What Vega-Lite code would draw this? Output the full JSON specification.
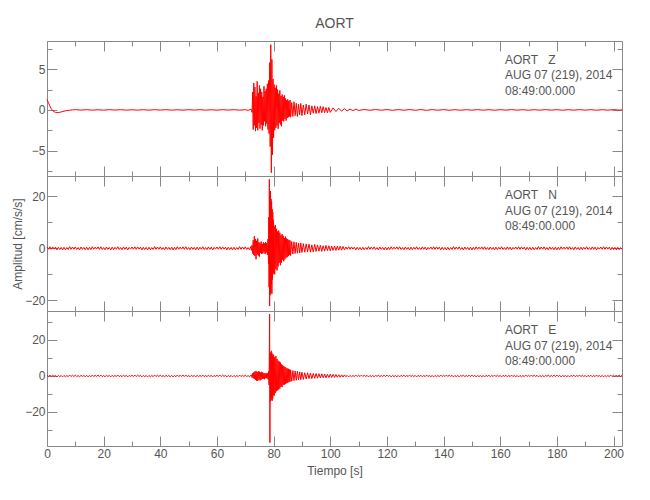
{
"$schema":"https://vega.github.io/schema/vega-lite/v6.json",
"padding":{"left":11,"top":16,"right":25,"bottom":8},
"title":{"text":"AORT","fontSize":14,"font":"Liberation Sans","fontWeight":"normal","color":"#555","offset":10,"anchor":"middle","frame":"group"},
"config":{"view":{"stroke":null},"axis":{"domainColor":"#888","tickColor":"#888","labelColor":"#555","titleColor":"#555","labelFont":"Liberation Sans","titleFont":"Liberation Sans","labelFontSize":12,"titleFontSize":12,"titleFontWeight":"normal","grid":false,"labelFlush":false,"labelOverlap":false,"labelBound":false}},
"datasets":{
"z":[{"t":0,"a":1.3},{"t":0.5,"a":0.9},{"t":1,"a":0.5},{"t":1.5,"a":0.15},{"t":2,"a":-0.1},{"t":2.5,"a":-0.22},{"t":3,"a":-0.3},{"t":3.5,"a":-0.33},{"t":4,"a":-0.32},{"t":5,"a":-0.25},{"t":6,"a":-0.15},{"t":7,"a":-0.08},{"t":8,"a":-0.03},{"t":9,"a":0.01},{"t":10,"a":0.03},{"t":12,"a":-0.02},{"t":14,"a":0.03},{"t":16,"a":-0.03},{"t":18,"a":0.02},{"t":20,"a":-0.03},{"t":22,"a":0.03},{"t":24,"a":-0.02},{"t":26,"a":0.03},{"t":28,"a":-0.03},{"t":30,"a":0.02},{"t":32,"a":-0.03},{"t":34,"a":0.03},{"t":36,"a":-0.03},{"t":38,"a":0.03},{"t":40,"a":-0.02},{"t":42,"a":0.03},{"t":44,"a":-0.03},{"t":46,"a":0.02},{"t":48,"a":-0.03},{"t":50,"a":0.03},{"t":52,"a":-0.02},{"t":54,"a":0.03},{"t":56,"a":-0.03},{"t":58,"a":0.02},{"t":60,"a":-0.03},{"t":62,"a":0.03},{"t":64,"a":-0.02},{"t":66,"a":0.03},{"t":68,"a":-0.03},{"t":70,"a":0.03},{"t":71,"a":-0.06},{"t":72,"a":0.1},{"t":72.4,"a":-0.3},
{"t":72.6,"a":2.2},{"t":72.8,"a":-2.4},{"t":73.0,"a":3.3},{"t":73.2,"a":-1.9},{"t":73.4,"a":2.8},{"t":73.6,"a":-2.6},{"t":73.8,"a":1.7},{"t":74.0,"a":-2.2},{"t":74.2,"a":3.5},{"t":74.4,"a":-2.5},{"t":74.6,"a":2.1},{"t":74.8,"a":-1.6},{"t":75.0,"a":3.0},{"t":75.2,"a":-2.3},{"t":75.4,"a":2.6},{"t":75.6,"a":-1.8},{"t":75.8,"a":2.2},{"t":76.0,"a":-2.5},{"t":76.2,"a":1.6},{"t":76.4,"a":-1.9},{"t":76.6,"a":2.9},{"t":76.8,"a":-1.4},{"t":77.0,"a":2.3},{"t":77.2,"a":-2.0},{"t":77.4,"a":2.6},{"t":77.6,"a":-1.7},{"t":77.8,"a":3.2},{"t":78.0,"a":-2.4},{"t":78.2,"a":3.6},{"t":78.4,"a":-2.9},{"t":78.6,"a":5.8},{"t":78.8,"a":-4.5},{"t":79.0,"a":8.0},{"t":79.2,"a":-7.7},{"t":79.4,"a":6.2},{"t":79.6,"a":-5.5},{"t":79.8,"a":3.8},{"t":80.0,"a":-3.4},{"t":80.2,"a":3.1},{"t":80.4,"a":-2.5},{"t":80.6,"a":2.7},{"t":80.8,"a":-2.2},{"t":81.0,"a":3.0},{"t":81.2,"a":-1.9},{"t":81.4,"a":2.5},{"t":81.6,"a":-2.3},{"t":81.8,"a":2.0},{"t":82.0,"a":-1.6},{"t":82.2,"a":2.4},{"t":82.4,"a":-1.8},{"t":82.6,"a":1.7},{"t":82.8,"a":-2.0},{"t":83.0,"a":1.9},{"t":83.2,"a":-1.3},{"t":83.4,"a":1.6},{"t":83.6,"a":-1.4},{"t":83.8,"a":1.8},{"t":84.0,"a":-1.1},{"t":84.2,"a":1.4},{"t":84.4,"a":-1.3},{"t":84.6,"a":1.2},{"t":84.8,"a":-1.0},{"t":85.0,"a":1.3},{"t":85.2,"a":-0.9},{"t":85.4,"a":1.1},{"t":85.6,"a":-0.8},{"t":85.8,"a":1.2},{"t":86.0,"a":-0.9},{"t":86.4,"a":0.9},{"t":86.8,"a":-0.8},{"t":87.2,"a":1.0},{"t":87.6,"a":-0.7},{"t":88.0,"a":0.8},{"t":88.4,"a":-0.8},{"t":88.8,"a":0.7},{"t":89.2,"a":-0.6},{"t":89.6,"a":0.8},{"t":90.0,"a":-0.7},
{"t":90.5,"a":0.6},{"t":91,"a":-0.6},{"t":91.5,"a":0.7},{"t":92,"a":-0.5},{"t":92.5,"a":0.6},{"t":93,"a":-0.6},{"t":93.5,"a":0.5},{"t":94,"a":-0.4},{"t":94.5,"a":0.5},{"t":95,"a":-0.45},{"t":95.5,"a":0.4},{"t":96,"a":-0.4},{"t":96.5,"a":0.45},{"t":97,"a":-0.35},{"t":97.5,"a":0.4},{"t":98,"a":-0.35},{"t":98.5,"a":0.3},{"t":99,"a":-0.35},{"t":99.5,"a":0.3},{"t":100,"a":-0.3},{"t":101,"a":0.25},{"t":102,"a":-0.2},{"t":103,"a":0.2},{"t":104,"a":-0.15},{"t":105,"a":0.15},{"t":106,"a":-0.12},{"t":107,"a":0.1},{"t":108,"a":-0.08},{"t":109,"a":0.08},{"t":110,"a":-0.06},
{"t":112,"a":0.05},{"t":114,"a":-0.04},{"t":116,"a":0.05},{"t":118,"a":-0.04},{"t":120,"a":0.04},{"t":122,"a":-0.05},{"t":124,"a":0.04},{"t":126,"a":-0.04},{"t":128,"a":0.05},{"t":130,"a":-0.04},{"t":132,"a":0.04},{"t":134,"a":-0.05},{"t":136,"a":0.04},{"t":138,"a":-0.04},{"t":140,"a":0.04},{"t":142,"a":-0.04},{"t":144,"a":0.03},{"t":146,"a":-0.04},{"t":148,"a":0.03},{"t":150,"a":-0.03},{"t":152,"a":0.04},{"t":154,"a":-0.03},{"t":156,"a":0.03},{"t":158,"a":-0.04},{"t":160,"a":0.03},{"t":162,"a":-0.03},{"t":164,"a":0.04},{"t":166,"a":-0.03},{"t":168,"a":0.03},{"t":170,"a":-0.04},{"t":172,"a":0.03},{"t":174,"a":-0.03},{"t":176,"a":0.04},{"t":178,"a":-0.03},{"t":180,"a":0.03},{"t":182,"a":-0.04},{"t":184,"a":0.03},{"t":186,"a":-0.03},{"t":188,"a":0.04},{"t":190,"a":-0.03},{"t":192,"a":0.03},{"t":194,"a":-0.04},{"t":196,"a":0.03},{"t":198,"a":-0.03},{"t":200,"a":0.04},{"t":202,"a":-0.03},{"t":203,"a":0.02}],
"n":[{"t":0,"a":0.5},{"t":0.5,"a":-0.35},{"t":1,"a":0.6},{"t":1.5,"a":-0.4},{"t":2,"a":0.55},{"t":2.5,"a":-0.3},{"t":3,"a":0.45},{"t":3.5,"a":-0.6},{"t":4,"a":0.4},{"t":4.5,"a":-0.5},
{"t":5,"a":0.35},{"t":5.5,"a":-0.6},{"t":6,"a":0.4},{"t":6.5,"a":-0.55},{"t":7,"a":0.3},{"t":7.5,"a":-0.45},{"t":8,"a":0.65},{"t":8.5,"a":-0.4},{"t":9,"a":0.5},{"t":9.5,"a":-0.35},
{"t":10,"a":0.55},{"t":10.5,"a":-0.45},{"t":11,"a":0.3},{"t":11.5,"a":-0.6},{"t":12,"a":0.5},{"t":12.5,"a":-0.4},{"t":13,"a":0.35},{"t":13.5,"a":-0.55},{"t":14,"a":0.45},{"t":14.5,"a":-0.6},
{"t":15,"a":0.4},{"t":15.5,"a":-0.5},{"t":16,"a":0.6},{"t":16.5,"a":-0.35},{"t":17,"a":0.45},{"t":17.5,"a":-0.3},{"t":18,"a":0.55},{"t":18.5,"a":-0.4},{"t":19,"a":0.6},{"t":19.5,"a":-0.45},
{"t":20,"a":0.3},{"t":20.5,"a":-0.55},{"t":21,"a":0.5},{"t":21.5,"a":-0.4},{"t":22,"a":0.35},{"t":22.5,"a":-0.6},{"t":23,"a":0.45},{"t":23.5,"a":-0.5},{"t":24,"a":0.4},{"t":24.5,"a":-0.35},
{"t":25,"a":0.6},{"t":25.5,"a":-0.45},{"t":26,"a":0.3},{"t":26.5,"a":-0.5},{"t":27,"a":0.55},{"t":27.5,"a":-0.4},{"t":28,"a":0.45},{"t":28.5,"a":-0.6},{"t":29,"a":0.35},{"t":29.5,"a":-0.3},
{"t":30,"a":0.5},{"t":30.5,"a":-0.35},{"t":31,"a":0.6},{"t":31.5,"a":-0.4},{"t":32,"a":0.55},{"t":32.5,"a":-0.3},{"t":33,"a":0.45},{"t":33.5,"a":-0.6},{"t":34,"a":0.4},{"t":34.5,"a":-0.5},
{"t":35,"a":0.35},{"t":35.5,"a":-0.6},{"t":36,"a":0.4},{"t":36.5,"a":-0.55},{"t":37,"a":0.3},{"t":37.5,"a":-0.45},{"t":38,"a":0.65},{"t":38.5,"a":-0.4},{"t":39,"a":0.5},{"t":39.5,"a":-0.35},
{"t":40,"a":0.55},{"t":40.5,"a":-0.45},{"t":41,"a":0.3},{"t":41.5,"a":-0.6},{"t":42,"a":0.5},{"t":42.5,"a":-0.4},{"t":43,"a":0.35},{"t":43.5,"a":-0.55},{"t":44,"a":0.45},{"t":44.5,"a":-0.6},
{"t":45,"a":0.4},{"t":45.5,"a":-0.5},{"t":46,"a":0.6},{"t":46.5,"a":-0.35},{"t":47,"a":0.45},{"t":47.5,"a":-0.3},{"t":48,"a":0.55},{"t":48.5,"a":-0.4},{"t":49,"a":0.6},{"t":49.5,"a":-0.45},
{"t":50,"a":0.3},{"t":50.5,"a":-0.55},{"t":51,"a":0.5},{"t":51.5,"a":-0.4},{"t":52,"a":0.35},{"t":52.5,"a":-0.6},{"t":53,"a":0.45},{"t":53.5,"a":-0.5},{"t":54,"a":0.4},{"t":54.5,"a":-0.35},
{"t":55,"a":0.6},{"t":55.5,"a":-0.45},{"t":56,"a":0.3},{"t":56.5,"a":-0.5},{"t":57,"a":0.55},{"t":57.5,"a":-0.4},{"t":58,"a":0.45},{"t":58.5,"a":-0.6},{"t":59,"a":0.35},{"t":59.5,"a":-0.3},
{"t":60,"a":0.5},{"t":60.5,"a":-0.35},{"t":61,"a":0.6},{"t":61.5,"a":-0.4},{"t":62,"a":0.55},{"t":62.5,"a":-0.3},{"t":63,"a":0.45},{"t":63.5,"a":-0.6},{"t":64,"a":0.4},{"t":64.5,"a":-0.5},
{"t":65,"a":0.35},{"t":65.5,"a":-0.6},{"t":66,"a":0.4},{"t":66.5,"a":-0.55},{"t":67,"a":0.3},{"t":67.5,"a":-0.45},{"t":68,"a":0.65},{"t":68.5,"a":-0.4},{"t":69,"a":0.5},{"t":69.5,"a":-0.35},
{"t":70,"a":0.55},{"t":70.5,"a":-0.45},{"t":71,"a":0.3},{"t":71.5,"a":-0.6},{"t":72,"a":0.7},
{"t":72.2,"a":-0.8},{"t":72.4,"a":1.2},{"t":72.6,"a":-2.0},{"t":72.8,"a":3.1},{"t":73.0,"a":-2.6},{"t":73.2,"a":4.7},{"t":73.4,"a":-3.0},{"t":73.6,"a":3.6},{"t":73.8,"a":-4.2},{"t":74.0,"a":2.9},{"t":74.2,"a":-2.4},{"t":74.4,"a":3.8},{"t":74.6,"a":-2.8},{"t":74.8,"a":2.4},{"t":75.0,"a":-3.2},{"t":75.2,"a":2.0},{"t":75.4,"a":-1.8},{"t":75.6,"a":2.6},{"t":75.8,"a":-2.2},{"t":76.0,"a":1.7},{"t":76.2,"a":-2.0},{"t":76.4,"a":2.3},{"t":76.6,"a":-1.5},{"t":76.8,"a":1.9},{"t":77.0,"a":-2.2},{"t":77.2,"a":2.4},{"t":77.4,"a":-1.6},{"t":77.6,"a":2.0},{"t":77.8,"a":-2.5},{"t":78.0,"a":3.5},{"t":78.2,"a":-6.0},{"t":78.3,"a":12.0},{"t":78.4,"a":-15.0},{"t":78.5,"a":26.5},{"t":78.6,"a":-22.2},{"t":78.7,"a":20.0},{"t":78.8,"a":-18.0},{"t":78.9,"a":22.0},{"t":79.0,"a":-17.0},{"t":79.1,"a":19.0},{"t":79.2,"a":-14.0},{"t":79.3,"a":18.0},{"t":79.4,"a":-17.5},{"t":79.5,"a":15.0},{"t":79.6,"a":-12.0},{"t":79.7,"a":14.0},{"t":79.8,"a":-10.0},{"t":79.9,"a":11.0},{"t":80.0,"a":-9.5},{"t":80.2,"a":8.5},{"t":80.4,"a":-10.0},{"t":80.6,"a":9.0},{"t":80.8,"a":-8.0},{"t":81.0,"a":7.5},{"t":81.2,"a":-8.5},{"t":81.4,"a":6.5},{"t":81.6,"a":-7.0},{"t":81.8,"a":6.8},{"t":82.0,"a":-5.5},{"t":82.2,"a":6.0},{"t":82.4,"a":-6.5},{"t":82.6,"a":5.0},{"t":82.8,"a":-5.5},{"t":83.0,"a":5.5},{"t":83.2,"a":-4.5},{"t":83.4,"a":4.8},{"t":83.6,"a":-5.0},{"t":83.8,"a":4.0},{"t":84.0,"a":-4.2},{"t":84.2,"a":4.5},{"t":84.4,"a":-3.6},{"t":84.6,"a":3.8},{"t":84.8,"a":-3.4},{"t":85.0,"a":3.5},{"t":85.2,"a":-3.0},{"t":85.4,"a":3.2},{"t":85.6,"a":-2.6},{"t":85.8,"a":3.0},{"t":86.0,"a":-2.8},{"t":86.4,"a":2.6},{"t":86.8,"a":-2.2},{"t":87.2,"a":2.5},{"t":87.6,"a":-2.0},{"t":88.0,"a":2.3},{"t":88.4,"a":-1.9},{"t":88.8,"a":2.0},{"t":89.2,"a":-1.8},{"t":89.6,"a":2.1},{"t":90.0,"a":-1.6},
{"t":90.5,"a":1.8},{"t":91,"a":-1.5},{"t":91.5,"a":1.7},{"t":92,"a":-1.4},{"t":92.5,"a":1.6},{"t":93,"a":-1.5},{"t":93.5,"a":1.3},{"t":94,"a":-1.4},{"t":94.5,"a":1.5},{"t":95,"a":-1.2},{"t":95.5,"a":1.3},{"t":96,"a":-1.1},{"t":96.5,"a":1.2},{"t":97,"a":-1.2},{"t":97.5,"a":1.0},{"t":98,"a":-1.1},{"t":98.5,"a":1.1},{"t":99,"a":-0.9},{"t":99.5,"a":1.0},{"t":100,"a":-1.0},{"t":100.5,"a":0.9},{"t":101,"a":-0.8},{"t":101.5,"a":0.9},{"t":102,"a":-0.8},{"t":102.5,"a":0.8},{"t":103,"a":-0.7},{"t":103.5,"a":0.8},{"t":104,"a":-0.7},{"t":104.5,"a":0.7},{"t":105,"a":-0.6},
{"t":105.5,"a":0.5},{"t":106,"a":-0.35},{"t":106.5,"a":0.6},{"t":107,"a":-0.4},{"t":107.5,"a":0.55},{"t":108,"a":-0.3},{"t":108.5,"a":0.45},{"t":109,"a":-0.6},{"t":109.5,"a":0.4},{"t":110,"a":-0.5},
{"t":110.5,"a":0.35},{"t":111,"a":-0.6},{"t":111.5,"a":0.4},{"t":112,"a":-0.55},{"t":112.5,"a":0.3},{"t":113,"a":-0.45},{"t":113.5,"a":0.65},{"t":114,"a":-0.4},{"t":114.5,"a":0.5},{"t":115,"a":-0.35},
{"t":115.5,"a":0.55},{"t":116,"a":-0.45},{"t":116.5,"a":0.3},{"t":117,"a":-0.6},{"t":117.5,"a":0.5},{"t":118,"a":-0.4},{"t":118.5,"a":0.35},{"t":119,"a":-0.55},{"t":119.5,"a":0.45},{"t":120,"a":-0.6},
{"t":120.5,"a":0.4},{"t":121,"a":-0.5},{"t":121.5,"a":0.6},{"t":122,"a":-0.35},{"t":122.5,"a":0.45},{"t":123,"a":-0.3},{"t":123.5,"a":0.55},{"t":124,"a":-0.4},{"t":124.5,"a":0.6},{"t":125,"a":-0.45},
{"t":125.5,"a":0.3},{"t":126,"a":-0.55},{"t":126.5,"a":0.5},{"t":127,"a":-0.4},{"t":127.5,"a":0.35},{"t":128,"a":-0.6},{"t":128.5,"a":0.45},{"t":129,"a":-0.5},{"t":129.5,"a":0.4},{"t":130,"a":-0.35},
{"t":130.5,"a":0.6},{"t":131,"a":-0.45},{"t":131.5,"a":0.3},{"t":132,"a":-0.5},{"t":132.5,"a":0.55},{"t":133,"a":-0.4},{"t":133.5,"a":0.45},{"t":134,"a":-0.6},{"t":134.5,"a":0.35},{"t":135,"a":-0.3},
{"t":135.5,"a":0.5},{"t":136,"a":-0.35},{"t":136.5,"a":0.6},{"t":137,"a":-0.4},{"t":137.5,"a":0.55},{"t":138,"a":-0.3},{"t":138.5,"a":0.45},{"t":139,"a":-0.6},{"t":139.5,"a":0.4},{"t":140,"a":-0.5},
{"t":140.5,"a":0.35},{"t":141,"a":-0.6},{"t":141.5,"a":0.4},{"t":142,"a":-0.55},{"t":142.5,"a":0.3},{"t":143,"a":-0.45},{"t":143.5,"a":0.65},{"t":144,"a":-0.4},{"t":144.5,"a":0.5},{"t":145,"a":-0.35},
{"t":145.5,"a":0.55},{"t":146,"a":-0.45},{"t":146.5,"a":0.3},{"t":147,"a":-0.6},{"t":147.5,"a":0.5},{"t":148,"a":-0.4},{"t":148.5,"a":0.35},{"t":149,"a":-0.55},{"t":149.5,"a":0.45},{"t":150,"a":-0.6},
{"t":150.5,"a":0.4},{"t":151,"a":-0.5},{"t":151.5,"a":0.6},{"t":152,"a":-0.35},{"t":152.5,"a":0.45},{"t":153,"a":-0.3},{"t":153.5,"a":0.55},{"t":154,"a":-0.4},{"t":154.5,"a":0.6},{"t":155,"a":-0.45},
{"t":155.5,"a":0.3},{"t":156,"a":-0.55},{"t":156.5,"a":0.5},{"t":157,"a":-0.4},{"t":157.5,"a":0.35},{"t":158,"a":-0.6},{"t":158.5,"a":0.45},{"t":159,"a":-0.5},{"t":159.5,"a":0.4},{"t":160,"a":-0.35},
{"t":160.5,"a":0.6},{"t":161,"a":-0.45},{"t":161.5,"a":0.3},{"t":162,"a":-0.5},{"t":162.5,"a":0.55},{"t":163,"a":-0.4},{"t":163.5,"a":0.45},{"t":164,"a":-0.6},{"t":164.5,"a":0.35},{"t":165,"a":-0.3},
{"t":165.5,"a":0.5},{"t":166,"a":-0.35},{"t":166.5,"a":0.6},{"t":167,"a":-0.4},{"t":167.5,"a":0.55},{"t":168,"a":-0.3},{"t":168.5,"a":0.45},{"t":169,"a":-0.6},{"t":169.5,"a":0.4},{"t":170,"a":-0.5},
{"t":170.5,"a":0.35},{"t":171,"a":-0.6},{"t":171.5,"a":0.4},{"t":172,"a":-0.55},{"t":172.5,"a":0.3},{"t":173,"a":-0.45},{"t":173.5,"a":0.65},{"t":174,"a":-0.4},{"t":174.5,"a":0.5},{"t":175,"a":-0.35},
{"t":175.5,"a":0.55},{"t":176,"a":-0.45},{"t":176.5,"a":0.3},{"t":177,"a":-0.6},{"t":177.5,"a":0.5},{"t":178,"a":-0.4},{"t":178.5,"a":0.35},{"t":179,"a":-0.55},{"t":179.5,"a":0.45},{"t":180,"a":-0.6},
{"t":180.5,"a":0.4},{"t":181,"a":-0.5},{"t":181.5,"a":0.6},{"t":182,"a":-0.35},{"t":182.5,"a":0.45},{"t":183,"a":-0.3},{"t":183.5,"a":0.55},{"t":184,"a":-0.4},{"t":184.5,"a":0.6},{"t":185,"a":-0.45},
{"t":185.5,"a":0.3},{"t":186,"a":-0.55},{"t":186.5,"a":0.5},{"t":187,"a":-0.4},{"t":187.5,"a":0.35},{"t":188,"a":-0.6},{"t":188.5,"a":0.45},{"t":189,"a":-0.5},{"t":189.5,"a":0.4},{"t":190,"a":-0.35},
{"t":190.5,"a":0.6},{"t":191,"a":-0.45},{"t":191.5,"a":0.3},{"t":192,"a":-0.5},{"t":192.5,"a":0.55},{"t":193,"a":-0.4},{"t":193.5,"a":0.45},{"t":194,"a":-0.6},{"t":194.5,"a":0.35},{"t":195,"a":-0.3},
{"t":195.5,"a":0.5},{"t":196,"a":-0.35},{"t":196.5,"a":0.6},{"t":197,"a":-0.4},{"t":197.5,"a":0.55},{"t":198,"a":-0.3},{"t":198.5,"a":0.45},{"t":199,"a":-0.6},{"t":199.5,"a":0.4},{"t":200,"a":-0.5},
{"t":200.5,"a":0.35},{"t":201,"a":-0.6},{"t":201.5,"a":0.4},{"t":202,"a":-0.55},{"t":202.5,"a":0.3},{"t":203,"a":-0.45}],
"e":[{"t":0,"a":0.4},{"t":0.5,"a":-0.3},{"t":1,"a":0.5},{"t":1.5,"a":-0.3},{"t":2,"a":0.45},{"t":2.5,"a":-0.25},{"t":3,"a":0.35},{"t":3.5,"a":-0.5},{"t":4,"a":0.3},{"t":4.5,"a":-0.4},
{"t":5,"a":0.3},{"t":5.5,"a":-0.5},{"t":6,"a":0.3},{"t":6.5,"a":-0.45},{"t":7,"a":0.25},{"t":7.5,"a":-0.35},{"t":8,"a":0.5},{"t":8.5,"a":-0.3},{"t":9,"a":0.4},{"t":9.5,"a":-0.3},
{"t":10,"a":0.45},{"t":10.5,"a":-0.35},{"t":11,"a":0.25},{"t":11.5,"a":-0.5},{"t":12,"a":0.4},{"t":12.5,"a":-0.3},{"t":13,"a":0.3},{"t":13.5,"a":-0.45},{"t":14,"a":0.35},{"t":14.5,"a":-0.5},
{"t":15,"a":0.3},{"t":15.5,"a":-0.4},{"t":16,"a":0.5},{"t":16.5,"a":-0.3},{"t":17,"a":0.35},{"t":17.5,"a":-0.25},{"t":18,"a":0.45},{"t":18.5,"a":-0.3},{"t":19,"a":0.5},{"t":19.5,"a":-0.35},
{"t":20,"a":0.25},{"t":20.5,"a":-0.45},{"t":21,"a":0.4},{"t":21.5,"a":-0.3},{"t":22,"a":0.3},{"t":22.5,"a":-0.5},{"t":23,"a":0.35},{"t":23.5,"a":-0.4},{"t":24,"a":0.3},{"t":24.5,"a":-0.3},
{"t":25,"a":0.5},{"t":25.5,"a":-0.35},{"t":26,"a":0.25},{"t":26.5,"a":-0.4},{"t":27,"a":0.45},{"t":27.5,"a":-0.3},{"t":28,"a":0.35},{"t":28.5,"a":-0.5},{"t":29,"a":0.3},{"t":29.5,"a":-0.25},
{"t":30,"a":0.4},{"t":30.5,"a":-0.3},{"t":31,"a":0.5},{"t":31.5,"a":-0.3},{"t":32,"a":0.45},{"t":32.5,"a":-0.25},{"t":33,"a":0.35},{"t":33.5,"a":-0.5},{"t":34,"a":0.3},{"t":34.5,"a":-0.4},
{"t":35,"a":0.3},{"t":35.5,"a":-0.5},{"t":36,"a":0.3},{"t":36.5,"a":-0.45},{"t":37,"a":0.25},{"t":37.5,"a":-0.35},{"t":38,"a":0.5},{"t":38.5,"a":-0.3},{"t":39,"a":0.4},{"t":39.5,"a":-0.3},
{"t":40,"a":0.45},{"t":40.5,"a":-0.35},{"t":41,"a":0.25},{"t":41.5,"a":-0.5},{"t":42,"a":0.4},{"t":42.5,"a":-0.3},{"t":43,"a":0.3},{"t":43.5,"a":-0.45},{"t":44,"a":0.35},{"t":44.5,"a":-0.5},
{"t":45,"a":0.3},{"t":45.5,"a":-0.4},{"t":46,"a":0.5},{"t":46.5,"a":-0.3},{"t":47,"a":0.35},{"t":47.5,"a":-0.25},{"t":48,"a":0.45},{"t":48.5,"a":-0.3},{"t":49,"a":0.5},{"t":49.5,"a":-0.35},
{"t":50,"a":0.25},{"t":50.5,"a":-0.45},{"t":51,"a":0.4},{"t":51.5,"a":-0.3},{"t":52,"a":0.3},{"t":52.5,"a":-0.5},{"t":53,"a":0.35},{"t":53.5,"a":-0.4},{"t":54,"a":0.3},{"t":54.5,"a":-0.3},
{"t":55,"a":0.5},{"t":55.5,"a":-0.35},{"t":56,"a":0.25},{"t":56.5,"a":-0.4},{"t":57,"a":0.45},{"t":57.5,"a":-0.3},{"t":58,"a":0.35},{"t":58.5,"a":-0.5},{"t":59,"a":0.3},{"t":59.5,"a":-0.25},
{"t":60,"a":0.4},{"t":60.5,"a":-0.3},{"t":61,"a":0.5},{"t":61.5,"a":-0.3},{"t":62,"a":0.45},{"t":62.5,"a":-0.25},{"t":63,"a":0.35},{"t":63.5,"a":-0.5},{"t":64,"a":0.3},{"t":64.5,"a":-0.4},
{"t":65,"a":0.3},{"t":65.5,"a":-0.5},{"t":66,"a":0.3},{"t":66.5,"a":-0.45},{"t":67,"a":0.25},{"t":67.5,"a":-0.35},{"t":68,"a":0.5},{"t":68.5,"a":-0.3},{"t":69,"a":0.4},{"t":69.5,"a":-0.3},
{"t":70,"a":0.45},{"t":70.5,"a":-0.35},{"t":71,"a":0.25},{"t":71.5,"a":-0.5},{"t":72,"a":0.5},
{"t":72.2,"a":0.6},{"t":72.4,"a":-0.9},{"t":72.6,"a":1.5},{"t":72.8,"a":-1.2},{"t":73.0,"a":2.0},{"t":73.2,"a":-1.6},{"t":73.4,"a":2.5},{"t":73.6,"a":-2.2},{"t":73.8,"a":2.8},{"t":74.0,"a":-2.6},{"t":74.2,"a":2.2},{"t":74.4,"a":-2.8},{"t":74.6,"a":2.6},{"t":74.8,"a":-2.0},{"t":75.0,"a":2.4},{"t":75.2,"a":-2.5},{"t":75.4,"a":1.9},{"t":75.6,"a":-2.1},{"t":75.8,"a":2.3},{"t":76.0,"a":-1.7},{"t":76.2,"a":1.9},{"t":76.4,"a":-1.5},{"t":76.6,"a":1.6},{"t":76.8,"a":-1.8},{"t":77.0,"a":1.4},{"t":77.2,"a":-1.2},{"t":77.4,"a":1.5},{"t":77.6,"a":-1.3},{"t":77.8,"a":1.6},{"t":78.0,"a":-1.8},{"t":78.2,"a":2.5},{"t":78.4,"a":-5.0},{"t":78.5,"a":14.0},{"t":78.6,"a":34.3},{"t":78.7,"a":-37.0},{"t":78.8,"a":13.0},{"t":78.9,"a":-14.0},{"t":79.0,"a":12.5},{"t":79.1,"a":-13.5},{"t":79.2,"a":14.0},{"t":79.3,"a":-12.0},{"t":79.4,"a":13.0},{"t":79.5,"a":-13.8},{"t":79.6,"a":11.0},{"t":79.7,"a":-12.5},{"t":79.8,"a":12.0},{"t":79.9,"a":-10.5},{"t":80.0,"a":11.5},{"t":80.2,"a":-11.0},{"t":80.4,"a":10.5},{"t":80.6,"a":-9.5},{"t":80.8,"a":11.0},{"t":81.0,"a":-8.5},{"t":81.2,"a":9.5},{"t":81.4,"a":-8.0},{"t":81.6,"a":8.5},{"t":81.8,"a":-7.5},{"t":82.0,"a":8.0},{"t":82.2,"a":-7.0},{"t":82.4,"a":7.5},{"t":82.6,"a":-6.0},{"t":82.8,"a":6.5},{"t":83.0,"a":-6.2},{"t":83.2,"a":6.0},{"t":83.4,"a":-5.0},{"t":83.6,"a":5.5},{"t":83.8,"a":-4.8},{"t":84.0,"a":5.0},{"t":84.2,"a":-4.5},{"t":84.4,"a":4.6},{"t":84.6,"a":-4.0},{"t":84.8,"a":4.2},{"t":85.0,"a":-3.8},{"t":85.2,"a":4.0},{"t":85.4,"a":-3.4},{"t":85.6,"a":3.6},{"t":85.8,"a":-3.2},{"t":86.0,"a":3.4},{"t":86.4,"a":-2.9},{"t":86.8,"a":3.0},{"t":87.2,"a":-2.6},{"t":87.6,"a":2.8},{"t":88.0,"a":-2.4},{"t":88.4,"a":2.6},{"t":88.8,"a":-2.2},{"t":89.2,"a":2.3},{"t":89.6,"a":-2.0},{"t":90.0,"a":2.1},
{"t":90.5,"a":-1.9},{"t":91,"a":1.8},{"t":91.5,"a":-1.7},{"t":92,"a":1.8},{"t":92.5,"a":-1.5},{"t":93,"a":1.6},{"t":93.5,"a":-1.5},{"t":94,"a":1.4},{"t":94.5,"a":-1.3},{"t":95,"a":1.4},{"t":95.5,"a":-1.2},{"t":96,"a":1.3},{"t":96.5,"a":-1.1},{"t":97,"a":1.2},{"t":97.5,"a":-1.0},{"t":98,"a":1.1},{"t":98.5,"a":-1.0},{"t":99,"a":1.0},{"t":99.5,"a":-0.9},{"t":100,"a":1.0},{"t":100.5,"a":-0.8},{"t":101,"a":0.9},{"t":101.5,"a":-0.8},{"t":102,"a":0.8},{"t":102.5,"a":-0.7},{"t":103,"a":0.7},{"t":103.5,"a":-0.7},{"t":104,"a":0.6},{"t":104.5,"a":-0.6},{"t":105,"a":0.6},
{"t":105.5,"a":-0.4},{"t":106,"a":0.3},{"t":106.5,"a":-0.5},{"t":107,"a":0.3},{"t":107.5,"a":-0.45},{"t":108,"a":0.25},{"t":108.5,"a":-0.35},{"t":109,"a":0.5},{"t":109.5,"a":-0.3},{"t":110,"a":0.4},
{"t":110.5,"a":-0.3},{"t":111,"a":0.5},{"t":111.5,"a":-0.3},{"t":112,"a":0.45},{"t":112.5,"a":-0.25},{"t":113,"a":0.35},{"t":113.5,"a":-0.5},{"t":114,"a":0.3},{"t":114.5,"a":-0.4},{"t":115,"a":0.3},
{"t":115.5,"a":-0.45},{"t":116,"a":0.35},{"t":116.5,"a":-0.25},{"t":117,"a":0.5},{"t":117.5,"a":-0.4},{"t":118,"a":0.3},{"t":118.5,"a":-0.3},{"t":119,"a":0.45},{"t":119.5,"a":-0.35},{"t":120,"a":0.5},
{"t":120.5,"a":-0.3},{"t":121,"a":0.4},{"t":121.5,"a":-0.5},{"t":122,"a":0.3},{"t":122.5,"a":-0.35},{"t":123,"a":0.25},{"t":123.5,"a":-0.45},{"t":124,"a":0.3},{"t":124.5,"a":-0.5},{"t":125,"a":0.35},
{"t":125.5,"a":-0.25},{"t":126,"a":0.45},{"t":126.5,"a":-0.4},{"t":127,"a":0.3},{"t":127.5,"a":-0.3},{"t":128,"a":0.5},{"t":128.5,"a":-0.35},{"t":129,"a":0.4},{"t":129.5,"a":-0.3},{"t":130,"a":0.3},
{"t":130.5,"a":-0.5},{"t":131,"a":0.35},{"t":131.5,"a":-0.25},{"t":132,"a":0.4},{"t":132.5,"a":-0.45},{"t":133,"a":0.3},{"t":133.5,"a":-0.35},{"t":134,"a":0.5},{"t":134.5,"a":-0.3},{"t":135,"a":0.25},
{"t":135.5,"a":-0.4},{"t":136,"a":0.3},{"t":136.5,"a":-0.5},{"t":137,"a":0.3},{"t":137.5,"a":-0.45},{"t":138,"a":0.25},{"t":138.5,"a":-0.35},{"t":139,"a":0.5},{"t":139.5,"a":-0.3},{"t":140,"a":0.4},
{"t":140.5,"a":-0.3},{"t":141,"a":0.5},{"t":141.5,"a":-0.3},{"t":142,"a":0.45},{"t":142.5,"a":-0.25},{"t":143,"a":0.35},{"t":143.5,"a":-0.5},{"t":144,"a":0.3},{"t":144.5,"a":-0.4},{"t":145,"a":0.3},
{"t":145.5,"a":-0.45},{"t":146,"a":0.35},{"t":146.5,"a":-0.25},{"t":147,"a":0.5},{"t":147.5,"a":-0.4},{"t":148,"a":0.3},{"t":148.5,"a":-0.3},{"t":149,"a":0.45},{"t":149.5,"a":-0.35},{"t":150,"a":0.5},
{"t":150.5,"a":-0.3},{"t":151,"a":0.4},{"t":151.5,"a":-0.5},{"t":152,"a":0.3},{"t":152.5,"a":-0.35},{"t":153,"a":0.25},{"t":153.5,"a":-0.45},{"t":154,"a":0.3},{"t":154.5,"a":-0.5},{"t":155,"a":0.35},
{"t":155.5,"a":-0.25},{"t":156,"a":0.45},{"t":156.5,"a":-0.4},{"t":157,"a":0.3},{"t":157.5,"a":-0.3},{"t":158,"a":0.5},{"t":158.5,"a":-0.35},{"t":159,"a":0.4},{"t":159.5,"a":-0.3},{"t":160,"a":0.3},
{"t":160.5,"a":-0.5},{"t":161,"a":0.35},{"t":161.5,"a":-0.25},{"t":162,"a":0.4},{"t":162.5,"a":-0.45},{"t":163,"a":0.3},{"t":163.5,"a":-0.35},{"t":164,"a":0.5},{"t":164.5,"a":-0.3},{"t":165,"a":0.25},
{"t":165.5,"a":-0.4},{"t":166,"a":0.3},{"t":166.5,"a":-0.5},{"t":167,"a":0.3},{"t":167.5,"a":-0.45},{"t":168,"a":0.25},{"t":168.5,"a":-0.35},{"t":169,"a":0.5},{"t":169.5,"a":-0.3},{"t":170,"a":0.4},
{"t":170.5,"a":-0.3},{"t":171,"a":0.5},{"t":171.5,"a":-0.3},{"t":172,"a":0.45},{"t":172.5,"a":-0.25},{"t":173,"a":0.35},{"t":173.5,"a":-0.5},{"t":174,"a":0.3},{"t":174.5,"a":-0.4},{"t":175,"a":0.3},
{"t":175.5,"a":-0.45},{"t":176,"a":0.35},{"t":176.5,"a":-0.25},{"t":177,"a":0.5},{"t":177.5,"a":-0.4},{"t":178,"a":0.3},{"t":178.5,"a":-0.3},{"t":179,"a":0.45},{"t":179.5,"a":-0.35},{"t":180,"a":0.5},
{"t":180.5,"a":-0.3},{"t":181,"a":0.4},{"t":181.5,"a":-0.5},{"t":182,"a":0.3},{"t":182.5,"a":-0.35},{"t":183,"a":0.25},{"t":183.5,"a":-0.45},{"t":184,"a":0.3},{"t":184.5,"a":-0.5},{"t":185,"a":0.35},
{"t":185.5,"a":-0.25},{"t":186,"a":0.45},{"t":186.5,"a":-0.4},{"t":187,"a":0.3},{"t":187.5,"a":-0.3},{"t":188,"a":0.5},{"t":188.5,"a":-0.35},{"t":189,"a":0.4},{"t":189.5,"a":-0.3},{"t":190,"a":0.3},
{"t":190.5,"a":-0.5},{"t":191,"a":0.35},{"t":191.5,"a":-0.25},{"t":192,"a":0.4},{"t":192.5,"a":-0.45},{"t":193,"a":0.3},{"t":193.5,"a":-0.35},{"t":194,"a":0.5},{"t":194.5,"a":-0.3},{"t":195,"a":0.25},
{"t":195.5,"a":-0.4},{"t":196,"a":0.3},{"t":196.5,"a":-0.5},{"t":197,"a":0.3},{"t":197.5,"a":-0.45},{"t":198,"a":0.25},{"t":198.5,"a":-0.35},{"t":199,"a":0.5},{"t":199.5,"a":-0.3},{"t":200,"a":0.4},
{"t":200.5,"a":-0.3},{"t":201,"a":0.5},{"t":201.5,"a":-0.3},{"t":202,"a":0.45},{"t":202.5,"a":-0.25},{"t":203,"a":0.35}]
},
"spacing":0,
"bounds":"flush",
"vconcat":[
{"width":575,"height":135,"resolve":{"axis":{"x":"independent","y":"independent"}},
"layer":[
{"data":{"name":"z"},"mark":{"type":"line","color":"#ff0000","strokeWidth":1},
"encoding":{"x":{"field":"t","type":"quantitative","scale":{"domain":[0,203],"nice":false,"zero":false},"axis":{"orient":"bottom","values":[0,10,20,30,40,50,60,70,80,90,100,110,120,130,140,150,160,170,180,190,200],"labels":false,"title":null,"tickSize":{"condition":{"test":"datum.value % 20 === 0","value":-10},"value":-5}}},
"y":{"field":"a","type":"quantitative","scale":{"domain":[-8.1,8.45],"nice":false,"zero":false},"axis":{"orient":"left","values":[-7.5,-5,-2.5,0,2.5,5,7.5],"title":null,"labelPadding":12,"labelExpr":"datum.value % 5 === 0 ? datum.label : ''","tickSize":{"condition":{"test":"datum.value % 5 === 0","value":-10},"value":-5}}}}},
{"data":{"values":[{"t":0,"a":0}]},"mark":{"type":"point","opacity":0},
"encoding":{"x":{"field":"t","type":"quantitative","scale":{"domain":[0,203],"nice":false,"zero":false},"axis":{"orient":"top","values":[0,10,20,30,40,50,60,70,80,90,100,110,120,130,140,150,160,170,180,190,200],"labels":false,"title":null,"tickSize":{"condition":{"test":"datum.value % 20 === 0","value":-10},"value":-5}}},
"y":{"field":"a","type":"quantitative","scale":{"domain":[-8.1,8.45],"nice":false,"zero":false},"axis":{"orient":"right","values":[-7.5,-5,-2.5,0,2.5,5,7.5],"labels":false,"title":null,"tickSize":{"condition":{"test":"datum.value % 5 === 0","value":-10},"value":-5}}}}},
{"data":{"values":[{"lines":["AORT\u00a0\u00a0\u00a0Z","AUG 07 (219), 2014","08:49:00.000"]}]},"mark":{"type":"text","align":"left","baseline":"top","fontSize":12,"lineHeight":15.5,"color":"#555","font":"Liberation Sans"},
"encoding":{"x":{"datum":161.7,"type":"quantitative","scale":{"domain":[0,203],"nice":false,"zero":false},"axis":null},"y":{"datum":6.74,"type":"quantitative","scale":{"domain":[-8.1,8.45],"nice":false,"zero":false},"axis":null},"text":{"field":"lines","type":"nominal"}}}
]},
{"width":575,"height":135,"resolve":{"axis":{"x":"independent","y":"independent"}},
"layer":[
{"data":{"name":"n"},"mark":{"type":"line","color":"#ff0000","strokeWidth":1},
"encoding":{"x":{"field":"t","type":"quantitative","scale":{"domain":[0,203],"nice":false,"zero":false},"axis":{"orient":"bottom","values":[0,10,20,30,40,50,60,70,80,90,100,110,120,130,140,150,160,170,180,190,200],"labels":false,"title":null,"tickSize":{"condition":{"test":"datum.value % 20 === 0","value":-10},"value":-5}}},
"y":{"field":"a","type":"quantitative","scale":{"domain":[-24.1,27.8],"nice":false,"zero":false},"axis":{"orient":"left","values":[-20,-10,0,10,20],"title":"Amplitud [cm/s/s]","titlePadding":0,"labelPadding":12,"labelExpr":"datum.value % 20 === 0 ? datum.label : ''","tickSize":{"condition":{"test":"datum.value % 20 === 0","value":-10},"value":-5}}}}},
{"data":{"values":[{"t":0,"a":0}]},"mark":{"type":"point","opacity":0},
"encoding":{"x":{"field":"t","type":"quantitative","scale":{"domain":[0,203],"nice":false,"zero":false},"axis":{"orient":"top","values":[0,10,20,30,40,50,60,70,80,90,100,110,120,130,140,150,160,170,180,190,200],"labels":false,"title":null,"tickSize":{"condition":{"test":"datum.value % 20 === 0","value":-10},"value":-5}}},
"y":{"field":"a","type":"quantitative","scale":{"domain":[-24.1,27.8],"nice":false,"zero":false},"axis":{"orient":"right","values":[-20,-10,0,10,20],"labels":false,"title":null,"tickSize":{"condition":{"test":"datum.value % 20 === 0","value":-10},"value":-5}}}}},
{"data":{"values":[{"lines":["AORT\u00a0\u00a0\u00a0N","AUG 07 (219), 2014","08:49:00.000"]}]},"mark":{"type":"text","align":"left","baseline":"top","fontSize":12,"lineHeight":15.5,"color":"#555","font":"Liberation Sans"},
"encoding":{"x":{"datum":161.7,"type":"quantitative","scale":{"domain":[0,203],"nice":false,"zero":false},"axis":null},"y":{"datum":22.4,"type":"quantitative","scale":{"domain":[-24.1,27.8],"nice":false,"zero":false},"axis":null},"text":{"field":"lines","type":"nominal"}}}
]},
{"width":575,"height":135,"resolve":{"axis":{"x":"independent","y":"independent"}},
"layer":[
{"data":{"name":"e"},"mark":{"type":"line","color":"#ff0000","strokeWidth":1},
"encoding":{"x":{"field":"t","type":"quantitative","scale":{"domain":[0,203],"nice":false,"zero":false},"axis":{"orient":"bottom","values":[0,10,20,30,40,50,60,70,80,90,100,110,120,130,140,150,160,170,180,190,200],"title":"Tiempo [s]","titlePadding":1,"labelPadding":12,"labelExpr":"datum.value % 20 === 0 ? datum.label : ''","tickSize":{"condition":{"test":"datum.value % 20 === 0","value":-10},"value":-5}}},
"y":{"field":"a","type":"quantitative","scale":{"domain":[-38.9,36.1],"nice":false,"zero":false},"axis":{"orient":"left","values":[-30,-20,-10,0,10,20,30],"title":null,"labelPadding":12,"labelExpr":"datum.value % 20 === 0 ? datum.label : ''","tickSize":{"condition":{"test":"datum.value % 20 === 0","value":-10},"value":-5}}}}},
{"data":{"values":[{"t":0,"a":0}]},"mark":{"type":"point","opacity":0},
"encoding":{"x":{"field":"t","type":"quantitative","scale":{"domain":[0,203],"nice":false,"zero":false},"axis":{"orient":"top","values":[0,10,20,30,40,50,60,70,80,90,100,110,120,130,140,150,160,170,180,190,200],"labels":false,"title":null,"tickSize":{"condition":{"test":"datum.value % 20 === 0","value":-10},"value":-5}}},
"y":{"field":"a","type":"quantitative","scale":{"domain":[-38.9,36.1],"nice":false,"zero":false},"axis":{"orient":"right","values":[-30,-20,-10,0,10,20,30],"labels":false,"title":null,"tickSize":{"condition":{"test":"datum.value % 20 === 0","value":-10},"value":-5}}}}},
{"data":{"values":[{"lines":["AORT\u00a0\u00a0\u00a0E","AUG 07 (219), 2014","08:49:00.000"]}]},"mark":{"type":"text","align":"left","baseline":"top","fontSize":12,"lineHeight":15.5,"color":"#555","font":"Liberation Sans"},
"encoding":{"x":{"datum":161.7,"type":"quantitative","scale":{"domain":[0,203],"nice":false,"zero":false},"axis":null},"y":{"datum":28.3,"type":"quantitative","scale":{"domain":[-38.9,36.1],"nice":false,"zero":false},"axis":null},"text":{"field":"lines","type":"nominal"}}}
]}
]
}
